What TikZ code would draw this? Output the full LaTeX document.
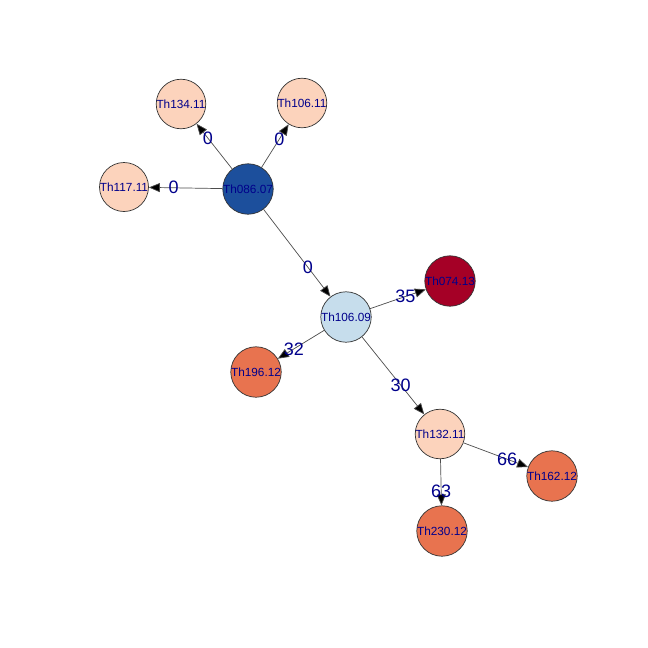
\documentclass[tikz,border=0pt]{standalone}
\usepackage{fontspec}
\setmainfont{Liberation Sans}
\usetikzlibrary{arrows.meta,calc}
\definecolor{peach}{HTML}{FCD3BC}
\definecolor{dblue}{HTML}{1C4F9C}
\definecolor{lblue}{HTML}{C6DDEC}
\definecolor{dred}{HTML}{A50026}
\definecolor{ored}{HTML}{E8734F}
\definecolor{labcol}{HTML}{00008B}
\begin{document}
\begin{tikzpicture}[x=1pt,y=-1pt,
  vert/.style={circle,draw=black!80,line width=0.7pt,minimum size=49pt,inner sep=0pt,
    text=labcol,font=\fontsize{11.8}{12}\selectfont},
  conn/.style={draw=black!70,line width=0.7pt,-{Triangle[length=11pt,width=9pt,fill=black]}},
  elab/.style={text=labcol,font=\fontsize{18}{19}\selectfont,inner sep=0pt}]
\useasboundingbox (0,0) rectangle (648,648);
\node[vert,fill=peach] (a134) at (181,104) {Th134.11};
\node[vert,fill=peach] (a10611) at (302,103) {Th106.11};
\node[vert,fill=peach] (a117) at (124,187) {Th117.11};
\node[vert,fill=dblue] (a086) at (248,189) {Th086.07};
\node[vert,fill=dred] (a074) at (450,281) {Th074.13};
\node[vert,fill=lblue] (a10609) at (346,317) {Th106.09};
\node[vert,fill=ored] (a196) at (256,372) {Th196.12};
\node[vert,fill=peach] (a132) at (440,434) {Th132.11};
\node[vert,fill=ored] (a162) at (552,476) {Th162.12};
\node[vert,fill=ored] (a230) at (442,531) {Th230.12};
\draw[conn] (a086) -- (a134);
\draw[conn] (a086) -- (a10611);
\draw[conn] (a086) -- (a117);
\draw[conn] (a086) -- (a10609);
\draw[conn] (a10609) -- (a074);
\draw[conn] (a10609) -- (a196);
\draw[conn] (a10609) -- (a132);
\draw[conn] (a132) -- (a162);
\draw[conn] (a132) -- (a230);
\node[elab] (l1) at ($(a086)!0.6!(a134)$) {0};
\node[elab] (l2) at ($(a086)!0.58!(a10611)$) {0};
\node[elab] (l3) at ($(a086)!0.6!(a117)$) {0};
\node[elab] (l4) at ($(a086)!0.61!(a10609)$) {0};
\node[elab] (l5) at ($(a10609)!0.57!(a074)$) {35};
\node[elab] (l6) at ($(a10609)!0.58!(a196)$) {32};
\node[elab] (l7) at ($(a10609)!0.58!(a132)$) {30};
\node[elab] (l8) at ($(a132)!0.6!(a162)$) {66};
\node[elab] (l9) at ($(a132)!0.59!(a230)$) {63};
\end{tikzpicture}
\end{document}
